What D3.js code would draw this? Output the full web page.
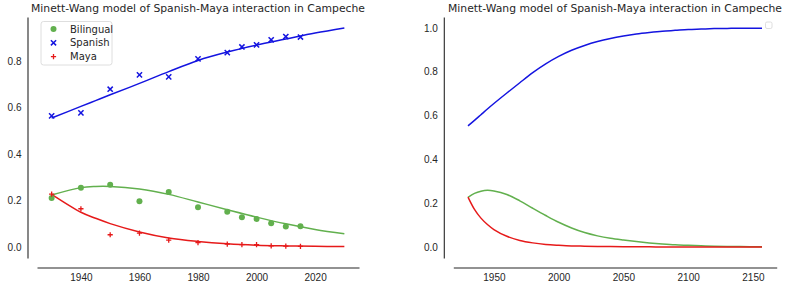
<!DOCTYPE html>
<html>
<head>
<meta charset="utf-8">
<script src="https://cdn.jsdelivr.net/npm/d3@7"></script>
<style>
  html, body { margin: 0; padding: 0; background: #fff; }
  svg { display: block; font-family: "DejaVu Sans", sans-serif; }
  .tick text { fill: #262626; font-size: 10px; }
  .domain { stroke: #262626; stroke-width: 1.1; }
</style>
</head>
<body>
<div id="chart"></div>
<script>
// Minett-Wang model, Campeche: observed shares and fitted curves

const TITLE = 'Minett-Wang model of Spanish-Maya interaction in Campeche';

// census observations
const obsYears     = [1930, 1940, 1950, 1960, 1970, 1980, 1990, 1995, 2000, 2005, 2010, 2015];
const obsBilingual = [0.211, 0.255, 0.268, 0.197, 0.237, 0.171, 0.152, 0.128, 0.121, 0.102, 0.088, 0.090];
const obsSpanish   = [0.565, 0.578, 0.680, 0.742, 0.733, 0.811, 0.838, 0.862, 0.871, 0.893, 0.907, 0.905];
const obsMaya      = [0.228, 0.165, 0.053, 0.060, 0.030, 0.019, 0.013, 0.010, 0.010, 0.005, 0.004, 0.003];

// fitted curve, left panel (1930-2030)
const fitYearsA     = [1930, 1940, 1945, 1950, 1960, 1970, 1980, 1990, 2000, 2010, 2020, 2030];
const fitSpanishA   = [0.556, 0.606, 0.631, 0.656, 0.705, 0.756, 0.804, 0.840, 0.870, 0.896, 0.922, 0.944];
const fitBilingualA = [0.224, 0.256, 0.261, 0.261, 0.250, 0.227, 0.194, 0.161, 0.129, 0.100, 0.076, 0.057];
const fitMayaA      = [0.227, 0.150, 0.124, 0.101, 0.065, 0.039, 0.024, 0.014, 0.008, 0.005, 0.003, 0.002];

// long-run projection, right panel (1930-2157)
const fitYearsB     = [1930, 1935, 1940, 1945, 1950, 1960, 1970, 1980, 1990, 2000, 2010, 2020, 2030, 2040, 2050, 2060, 2070, 2080, 2090, 2100, 2110, 2120, 2130, 2140, 2157];
const fitSpanishB   = [0.553, 0.578, 0.604, 0.630, 0.655, 0.703, 0.750, 0.796, 0.836, 0.870, 0.898, 0.920, 0.938, 0.952, 0.963, 0.972, 0.979, 0.985, 0.989, 0.993, 0.995, 0.997, 0.998, 0.999, 0.999];
const fitBilingualB = [0.227, 0.245, 0.255, 0.259, 0.256, 0.240, 0.211, 0.177, 0.144, 0.113, 0.087, 0.066, 0.051, 0.040, 0.032, 0.025, 0.019, 0.014, 0.010, 0.008, 0.006, 0.004, 0.003, 0.002, 0.001];
const fitMayaB      = [0.228, 0.172, 0.132, 0.103, 0.080, 0.049, 0.030, 0.019, 0.012, 0.008, 0.005, 0.004, 0.003, 0.002, 0.001, 0.001, 0.001, 0.000, 0.000, 0.000, 0.000, 0.000, 0.000, 0.000, 0.000];

const xTicksA = [1940, 1960, 1980, 2000, 2020];
const xTicksB = [1950, 2000, 2050, 2100, 2150];
const yTicksA = [0.0, 0.2, 0.4, 0.6, 0.8];
const yTicksB = [0.0, 0.2, 0.4, 0.6, 0.8, 1.0];

const COLORS = { bilingual: '#62b04e', spanish: '#1414e0', maya: '#e61a1a' };

const W = 789, H = 285;
const svg = d3.select('#chart').append('svg').attr('width', W).attr('height', H);

// matplotlib-style 5% padding around the data range
function padded(lo, hi) {
    const p = (hi - lo) * 0.05;
    return [lo - p, hi + p];
}

function drawPanel(opts) {
    const { left, right, top, bottom, xDomain, yDomain, xTicks, yTicks, curves } = opts;
    const offset = 9.5; // despined axes pushed outward

    const x = d3.scaleLinear().domain(xDomain).range([left, right]);
    const y = d3.scaleLinear().domain(yDomain).range([bottom, top]);

    svg.append('g')
        .attr('transform', `translate(0,${bottom + offset})`)
        .call(d3.axisBottom(x).tickValues(xTicks).tickSize(0).tickPadding(6).tickFormat(d3.format('d')));

    svg.append('g')
        .attr('transform', `translate(${left - offset},0)`)
        .call(d3.axisLeft(y).tickValues(yTicks).tickSize(0).tickPadding(6).tickFormat(d3.format('.1f')));

    const line = d3.line()
        .x(d => x(d[0]))
        .y(d => y(d[1]))
        .curve(d3.curveCatmullRom.alpha(0.5));

    curves.forEach(c => {
        svg.append('path')
            .datum(d3.zip(c.years, c.values))
            .attr('fill', 'none')
            .attr('stroke', c.color)
            .attr('stroke-width', 1.5)
            .attr('d', line);
    });

    svg.append('text')
        .attr('x', (left + right) / 2).attr('y', 12)
        .attr('text-anchor', 'middle')
        .attr('font-size', '10.8px')
        .attr('fill', '#262626')
        .text(TITLE);

    return { x, y };
}

function marker(g, kind, cx, cy) {
    if (kind === 'circle') {
        g.append('circle').attr('cx', cx).attr('cy', cy).attr('r', 3)
            .attr('fill', COLORS.bilingual);
    } else if (kind === 'cross') {
        const s = 2.6;
        g.append('path')
            .attr('d', `M${cx - s},${cy - s}L${cx + s},${cy + s}M${cx - s},${cy + s}L${cx + s},${cy - s}`)
            .attr('stroke', COLORS.spanish).attr('stroke-width', 1.5).attr('fill', 'none');
    } else {
        const s = 2.6;
        g.append('path')
            .attr('d', `M${cx - s},${cy}L${cx + s},${cy}M${cx},${cy - s}L${cx},${cy + s}`)
            .attr('stroke', COLORS.maya).attr('stroke-width', 1.3).attr('fill', 'none');
    }
}

// ---- left panel: data + fit
const A = drawPanel({
    left: 37, right: 359, top: 17, bottom: 258,
    xDomain: padded(1930, 2030),
    yDomain: padded(0, 0.944),
    xTicks: xTicksA, yTicks: yTicksA,
    curves: [
        { years: fitYearsA, values: fitSpanishA,   color: COLORS.spanish },
        { years: fitYearsA, values: fitBilingualA, color: COLORS.bilingual },
        { years: fitYearsA, values: fitMayaA,      color: COLORS.maya },
    ],
});

const pts = svg.append('g');
obsYears.forEach((yr, i) => marker(pts, 'circle', A.x(yr), A.y(obsBilingual[i])));
obsYears.forEach((yr, i) => marker(pts, 'cross',  A.x(yr), A.y(obsSpanish[i])));
obsYears.forEach((yr, i) => marker(pts, 'plus',   A.x(yr), A.y(obsMaya[i])));

// legend
const legendItems = [['circle', 'Bilingual'], ['cross', 'Spanish'], ['plus', 'Maya']];
const lg = svg.append('g');
lg.append('rect')
    .attr('x', 41).attr('y', 21.5).attr('width', 71).attr('height', 43.5)
    .attr('rx', 2.5).attr('fill', '#fff').attr('fill-opacity', 0.8)
    .attr('stroke', '#d6d6d6').attr('stroke-width', 0.8);
legendItems.forEach(([kind, label], i) => {
    const ly = 29 + i * 13.8;
    marker(lg, kind, 53.5, ly);
    lg.append('text')
        .attr('x', 70).attr('y', ly + 3.6)
        .attr('font-size', '10px').attr('fill', '#262626')
        .text(label);
});

// ---- right panel: long-run projection
drawPanel({
    left: 453.3, right: 776.7, top: 17, bottom: 258,
    xDomain: padded(1930, 2157),
    yDomain: padded(0, 1.0),
    xTicks: xTicksB, yTicks: yTicksB,
    curves: [
        { years: fitYearsB, values: fitSpanishB,   color: COLORS.spanish },
        { years: fitYearsB, values: fitBilingualB, color: COLORS.bilingual },
        { years: fitYearsB, values: fitMayaB,      color: COLORS.maya },
    ],
});

// empty legend box
svg.append('rect')
    .attr('x', 765.5).attr('y', 22).attr('width', 6.5).attr('height', 6.5)
    .attr('rx', 1.5).attr('fill', '#fff')
    .attr('stroke', '#d6d6d6').attr('stroke-width', 0.8);
</script>
</body>
</html>
